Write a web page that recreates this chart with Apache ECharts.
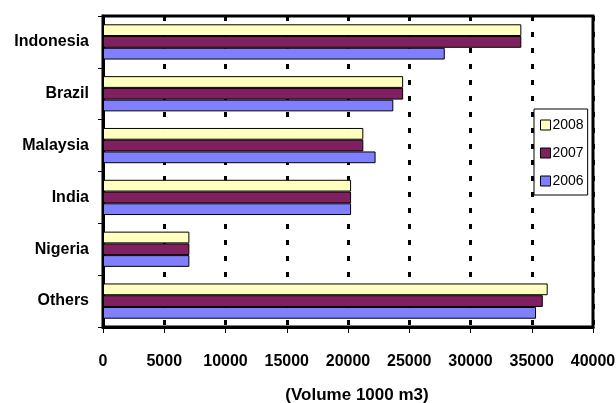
<!DOCTYPE html>
<html><head><meta charset="utf-8">
<script src="https://cdn.jsdelivr.net/npm/echarts@6/dist/echarts.min.js"></script>
<style>html,body{margin:0;padding:0;background:#fff}#c{width:616px;height:403px}</style>
</head><body><div id="c"></div>
<script>
var categories = ['Others', 'Nigeria', 'India', 'Malaysia', 'Brazil', 'Indonesia'];
var v2006 = [35350, 7050, 20250, 22250, 23700, 27900];
var v2007 = [35900, 7050, 20250, 21250, 24500, 34150];
var v2008 = [36300, 7050, 20250, 21250, 24500, 34150];
var xTicks = [0, 5000, 10000, 15000, 20000, 25000, 30000, 35000, 40000];
var FONT = '"Liberation Sans", Arial, sans-serif';

var chart = echarts.init(document.getElementById('c'));
function ser(name, data, color) {
  return {
    name: name, type: 'bar', data: data, barGap: '0%', barCategoryGap: '32%',
    itemStyle: { color: color, borderColor: '#000', borderWidth: 1 }
  };
}
chart.setOption({
  animation: false,
  backgroundColor: '#fff',
  grid: { left: 103, right: 23, top: 16, bottom: 76, containLabel: false, outerBoundsMode: 'none', show: true, borderColor: '#000', borderWidth: 3, backgroundColor: 'transparent' },
  legend: {
    orient: 'vertical', left: 534, top: 109,
    data: ['2008', '2007', '2006'],
    icon: 'rect', itemWidth: 10, itemHeight: 10, itemGap: 8,
    padding: [6, 4, 4, 6],
    borderColor: '#000', borderWidth: 1, backgroundColor: '#fff',
    itemStyle: { borderColor: '#000', borderWidth: 1 },
    textStyle: { fontFamily: FONT, fontSize: 14, color: '#000', lineHeight: 20, padding: [0, 0, 0, -3] }
  },
  xAxis: {
    type: 'value', min: xTicks[0], max: xTicks[xTicks.length - 1], interval: xTicks[1] - xTicks[0],
    name: '(Volume 1000 m3)', nameLocation: 'middle', nameGap: 60,
    nameTextStyle: { fontFamily: FONT, fontSize: 17, fontWeight: 'bold', color: '#000', padding: [0, 0, 0, 18] },
    axisLine: { show: true, lineStyle: { color: '#000', width: 3 } },
    axisTick: { show: true, length: 6, lineStyle: { color: '#000', width: 1 } },
    axisLabel: { fontFamily: FONT, fontSize: 16, fontWeight: 'bold', color: '#000', margin: 27, formatter: function (v) { return String(v); } },
    splitLine: { show: true, lineStyle: { color: '#000', width: 3, type: [5, 11] } }
  },
  yAxis: {
    type: 'category', data: categories,
    axisLine: { show: true, lineStyle: { color: '#000', width: 3 } },
    axisTick: { show: true, length: 5, lineStyle: { color: '#000', width: 1 } },
    axisLabel: { fontFamily: FONT, fontSize: 16, fontWeight: 'bold', color: '#000', margin: 14 },
    splitLine: { show: false }
  },
  series: [ser('2008', v2008, '#FFFFC0'), ser('2007', v2007, '#802060'), ser('2006', v2006, '#8080FF')]
});
</script></body></html>
